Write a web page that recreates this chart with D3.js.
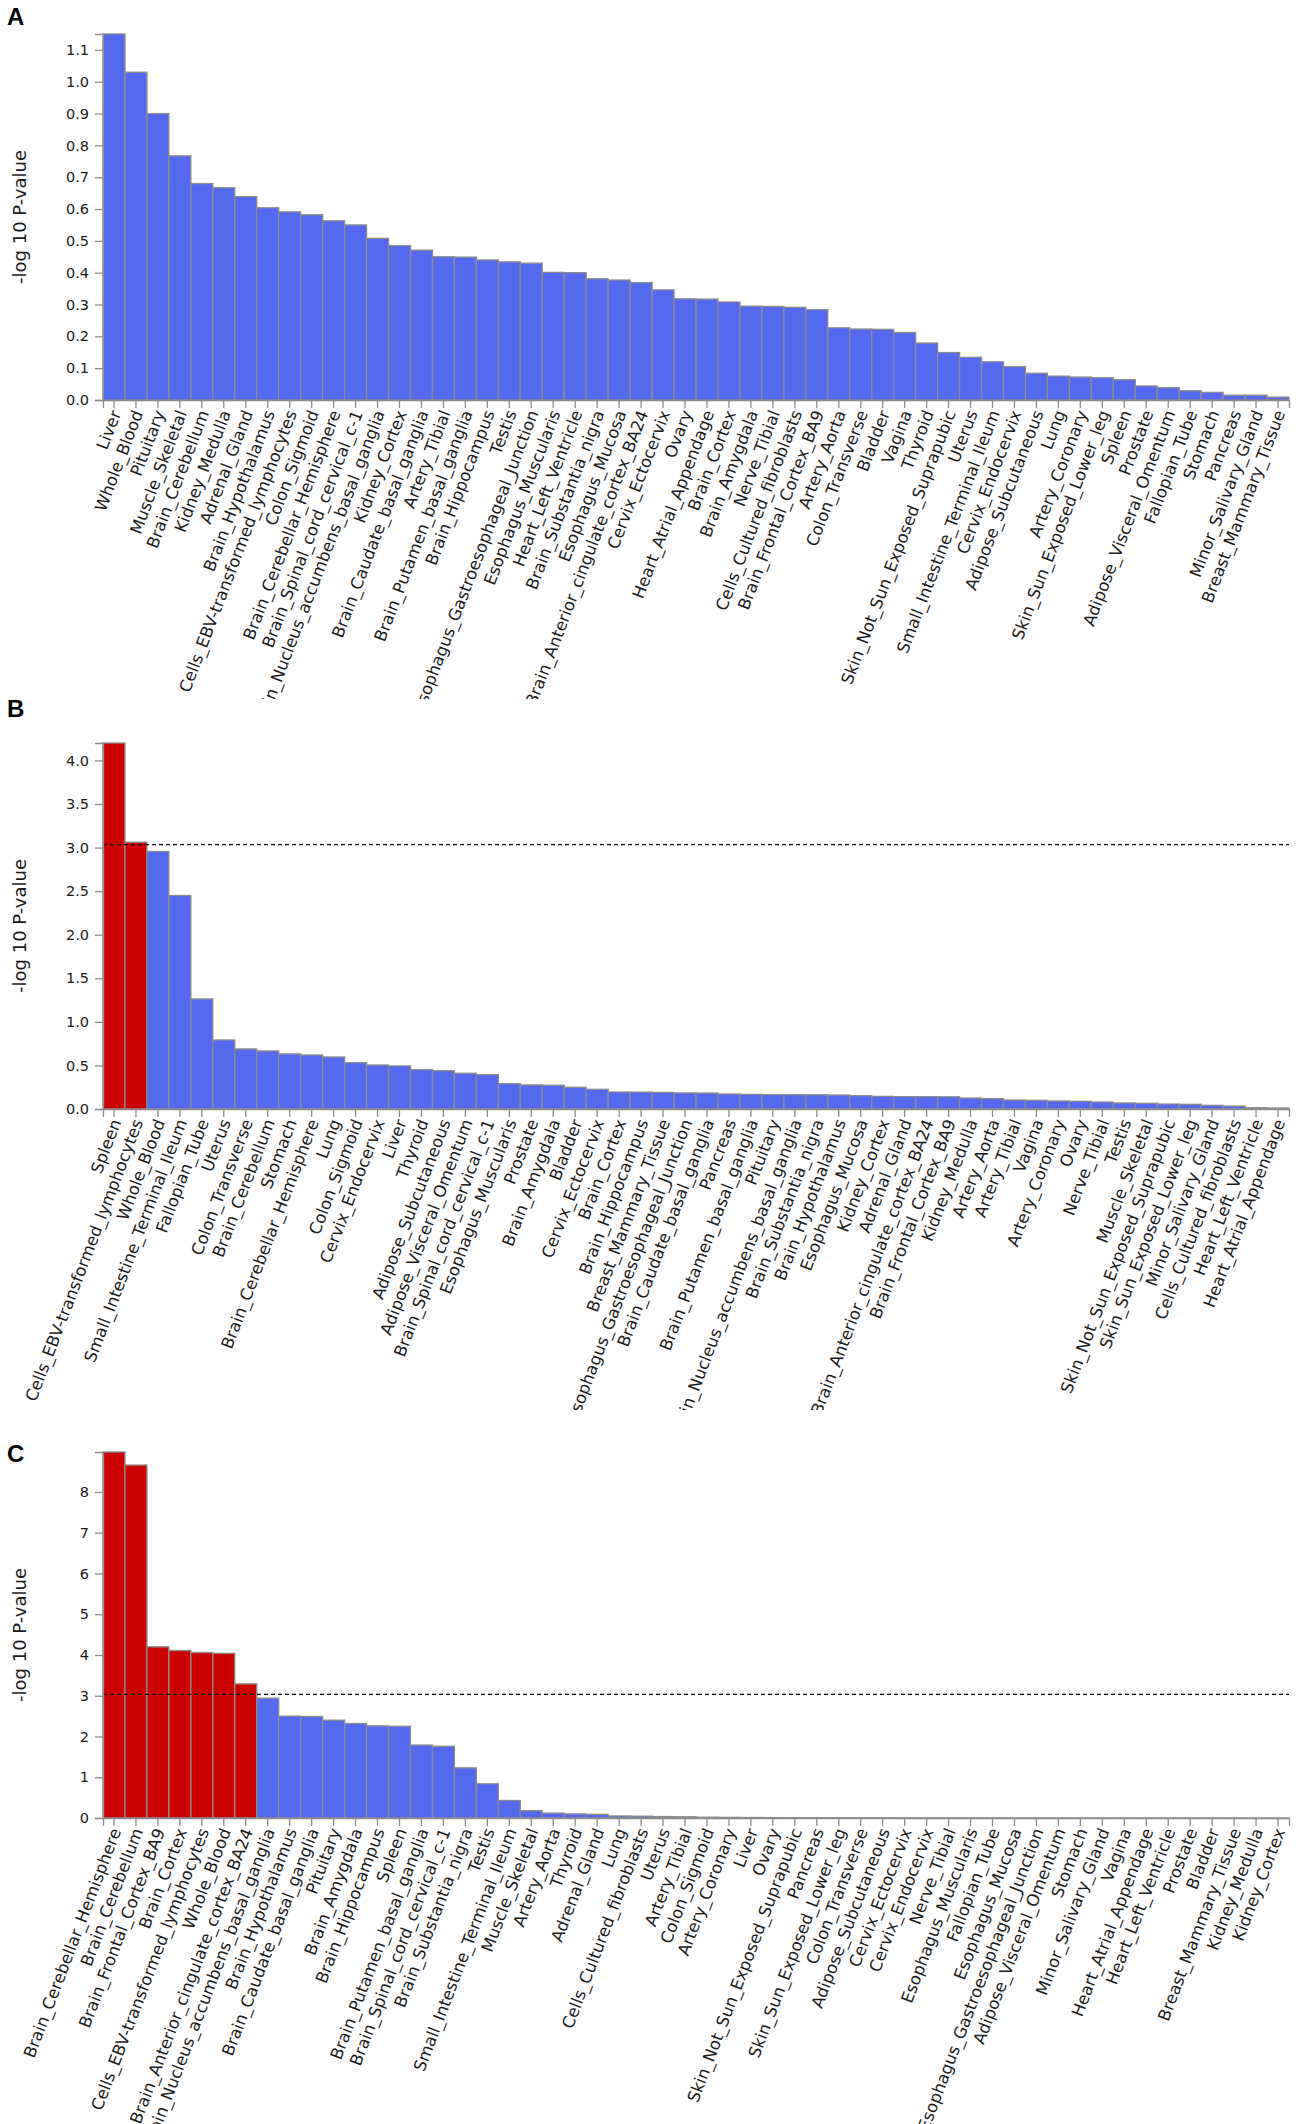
<!DOCTYPE html>
<html>
<head>
<meta charset="utf-8">
<script src="https://cdn.jsdelivr.net/npm/d3@7"></script>
<style>
body { margin: 0; background: #fff; }
svg text { font-family: "DejaVu Sans", sans-serif; }
</style>
</head>
<body>
<svg></svg>
<script>
// panel A
const tissuesA = ["Liver","Whole_Blood","Pituitary","Muscle_Skeletal","Brain_Cerebellum","Kidney_Medulla","Adrenal_Gland","Brain_Hypothalamus","Cells_EBV-transformed_lymphocytes","Colon_Sigmoid","Brain_Cerebellar_Hemisphere","Brain_Spinal_cord_cervical_c-1","Brain_Nucleus_accumbens_basal_ganglia","Kidney_Cortex","Brain_Caudate_basal_ganglia","Artery_Tibial","Brain_Putamen_basal_ganglia","Brain_Hippocampus","Testis","Esophagus_Gastroesophageal_Junction","Esophagus_Muscularis","Heart_Left_Ventricle","Brain_Substantia_nigra","Esophagus_Mucosa","Brain_Anterior_cingulate_cortex_BA24","Cervix_Ectocervix","Ovary","Heart_Atrial_Appendage","Brain_Cortex","Brain_Amygdala","Nerve_Tibial","Cells_Cultured_fibroblasts","Brain_Frontal_Cortex_BA9","Artery_Aorta","Colon_Transverse","Bladder","Vagina","Thyroid","Skin_Not_Sun_Exposed_Suprapubic","Uterus","Small_Intestine_Terminal_Ileum","Cervix_Endocervix","Adipose_Subcutaneous","Lung","Artery_Coronary","Skin_Sun_Exposed_Lower_leg","Spleen","Prostate","Adipose_Visceral_Omentum","Fallopian_Tube","Stomach","Pancreas","Minor_Salivary_Gland","Breast_Mammary_Tissue"];
const valuesA = [1.15,1.03,0.90,0.767,0.68,0.667,0.639,0.604,0.591,0.582,0.563,0.55,0.508,0.485,0.471,0.45,0.449,0.44,0.434,0.43,0.401,0.40,0.381,0.377,0.369,0.346,0.318,0.317,0.308,0.295,0.294,0.291,0.284,0.227,0.223,0.222,0.212,0.179,0.149,0.134,0.12,0.105,0.084,0.075,0.072,0.07,0.064,0.044,0.039,0.029,0.024,0.015,0.015,0.009];

// panel B
const tissuesB = ["Spleen","Cells_EBV-transformed_lymphocytes","Whole_Blood","Small_Intestine_Terminal_Ileum","Fallopian_Tube","Uterus","Colon_Transverse","Brain_Cerebellum","Stomach","Brain_Cerebellar_Hemisphere","Lung","Colon_Sigmoid","Cervix_Endocervix","Liver","Thyroid","Adipose_Subcutaneous","Adipose_Visceral_Omentum","Brain_Spinal_cord_cervical_c-1","Esophagus_Muscularis","Prostate","Brain_Amygdala","Bladder","Cervix_Ectocervix","Brain_Cortex","Brain_Hippocampus","Breast_Mammary_Tissue","Esophagus_Gastroesophageal_Junction","Brain_Caudate_basal_ganglia","Pancreas","Brain_Putamen_basal_ganglia","Pituitary","Brain_Nucleus_accumbens_basal_ganglia","Brain_Substantia_nigra","Brain_Hypothalamus","Esophagus_Mucosa","Kidney_Cortex","Adrenal_Gland","Brain_Anterior_cingulate_cortex_BA24","Brain_Frontal_Cortex_BA9","Kidney_Medulla","Artery_Aorta","Artery_Tibial","Vagina","Artery_Coronary","Ovary","Nerve_Tibial","Testis","Muscle_Skeletal","Skin_Not_Sun_Exposed_Suprapubic","Skin_Sun_Exposed_Lower_leg","Minor_Salivary_Gland","Cells_Cultured_fibroblasts","Heart_Left_Ventricle","Heart_Atrial_Appendage"];
const valuesB = [4.20,3.062,2.955,2.45,1.263,0.792,0.689,0.666,0.632,0.62,0.597,0.532,0.505,0.494,0.452,0.44,0.41,0.394,0.291,0.276,0.272,0.249,0.226,0.195,0.194,0.19,0.184,0.183,0.172,0.168,0.165,0.164,0.163,0.16,0.153,0.145,0.142,0.141,0.14,0.126,0.119,0.103,0.1,0.092,0.088,0.08,0.069,0.065,0.057,0.054,0.042,0.034,0.015,0.011];

// panel C
const tissuesC = ["Brain_Cerebellar_Hemisphere","Brain_Cerebellum","Brain_Frontal_Cortex_BA9","Brain_Cortex","Cells_EBV-transformed_lymphocytes","Whole_Blood","Brain_Anterior_cingulate_cortex_BA24","Brain_Nucleus_accumbens_basal_ganglia","Brain_Hypothalamus","Brain_Caudate_basal_ganglia","Pituitary","Brain_Amygdala","Brain_Hippocampus","Spleen","Brain_Putamen_basal_ganglia","Brain_Spinal_cord_cervical_c-1","Brain_Substantia_nigra","Testis","Small_Intestine_Terminal_Ileum","Muscle_Skeletal","Artery_Aorta","Thyroid","Adrenal_Gland","Lung","Cells_Cultured_fibroblasts","Uterus","Artery_Tibial","Colon_Sigmoid","Artery_Coronary","Liver","Ovary","Skin_Not_Sun_Exposed_Suprapubic","Pancreas","Skin_Sun_Exposed_Lower_leg","Colon_Transverse","Adipose_Subcutaneous","Cervix_Ectocervix","Cervix_Endocervix","Nerve_Tibial","Esophagus_Muscularis","Fallopian_Tube","Esophagus_Mucosa","Esophagus_Gastroesophageal_Junction","Adipose_Visceral_Omentum","Stomach","Minor_Salivary_Gland","Vagina","Heart_Atrial_Appendage","Heart_Left_Ventricle","Prostate","Bladder","Breast_Mammary_Tissue","Kidney_Medulla","Kidney_Cortex"];
const valuesC = [8.98,8.66,4.20,4.11,4.06,4.04,3.29,2.94,2.50,2.49,2.40,2.32,2.26,2.25,1.79,1.76,1.23,0.84,0.43,0.18,0.12,0.10,0.09,0.05,0.045,0.035,0.03,0.02,0.015,0.012,0.01,0.008,0.007,0.006,0.005,0.005,0.004,0.004,0.003,0.003,0.003,0.002,0.002,0.002,0.002,0.001,0.001,0.001,0.001,0.001,0.001,0.001,0.0005,0.0005];

const ticksA = [0,0.1,0.2,0.3,0.4,0.5,0.6,0.7,0.8,0.9,1.0,1.1];
const ticksB = [0,0.5,1.0,1.5,2.0,2.5,3.0,3.5,4.0];
const ticksC = [0,1,2,3,4,5,6,7,8];

// bonferroni line, 54 tissues
const threshold = -Math.log10(0.05 / 54);

const width = 1299, height = 2124;
const left = 103, right = 1289, plotH = 366;
const blue = "#5468f0", red = "#cc0000", edge = "#8c8c8c", axisCol = "#8c8c8c";

const svg = d3.select("svg").attr("width", width).attr("height", height);

const panels = [
	{letter: "A", tissues: tissuesA, values: valuesA, ticks: ticksA, fmt: d3.format(".1f"), top: 34, letterY: 25, clip: 699, line: false},
	{letter: "B", tissues: tissuesB, values: valuesB, ticks: ticksB, fmt: d3.format(".1f"), top: 743, letterY: 717, clip: 1410, line: true},
	{letter: "C", tissues: tissuesC, values: valuesC, ticks: ticksC, fmt: d3.format("d"), top: 1452, letterY: 1462, clip: 2124, line: true}
];

function drawPanel(p, k){
	var g = svg.append("g").attr("transform", "translate(0," + p.top + ")");

	var x = d3.scaleBand().domain(p.tissues).range([left, right]).padding(0);
	var y = d3.scaleLinear().domain([0, d3.max(p.values)]).range([plotH, 0]);

	var data = p.tissues.map((t, i) => ({t: t, v: p.values[i]}));

	g.selectAll(".bar").data(data)
	.enter().append("rect")
	.attr("class", "bar")
	.attr("x", d => x(d.t))
	.attr("y", d => y(d.v))
	.attr("width", x.bandwidth())
	.attr("height", d => plotH - y(d.v))
	.style("fill", d => (p.line && d.v > threshold) ? red : blue)
	.style("stroke", edge)
	.style("stroke-width", 1.3);

	if(p.line){
		g.append("line")
		.attr("x1", left).attr("x2", right)
		.attr("y1", y(threshold)).attr("y2", y(threshold))
		.style("stroke", "#111")
		.style("stroke-width", 1.3)
		.style("stroke-dasharray", "4,3");
	}

	var yAxis = g.append("g")
	.attr("transform", "translate(" + left + ",0)")
	.call(d3.axisLeft(y).tickValues(p.ticks).tickFormat(p.fmt).tickSize(8).tickPadding(6));

	var clipId = "clip" + k;
	svg.append("clipPath").attr("id", clipId)
	.append("rect").attr("x", 0).attr("y", plotH - 2).attr("width", width).attr("height", p.clip - p.top - plotH + 2);

	var xAxis = g.append("g").attr("clip-path", "url(#" + clipId + ")")
	.append("g")
	.attr("transform", "translate(0," + plotH + ")")
	.call(d3.axisBottom(x).tickSize(8));

	[yAxis, xAxis].forEach(a => {
		a.attr("font-family", null).attr("font-size", null);
		a.selectAll("path, line").style("stroke", axisCol).style("stroke-width", 1.3);
		a.selectAll("text").style("fill", "#1a1a1a").style("font-size", "14.5px");
	});

	xAxis.selectAll("text")
	.style("font-size", "16.5px")
	.attr("x", 0).attr("y", 0)
	.attr("dy", "0.35em")
	.attr("text-anchor", "end")
	.attr("transform", "translate(2,11) rotate(-69)");

	g.append("text")
	.attr("transform", "translate(26," + (plotH / 2) + ") rotate(-90)")
	.attr("text-anchor", "middle")
	.style("font-size", "18px")
	.style("fill", "#1a1a1a")
	.text("-log 10 P-value");

	svg.append("text")
	.attr("x", 7).attr("y", p.letterY)
	.style("font-family", "'Liberation Sans', Arial, sans-serif")
	.style("font-weight", "bold")
	.style("font-size", "24px")
	.text(p.letter);
}

panels.forEach(drawPanel);
</script>
</body>
</html>
